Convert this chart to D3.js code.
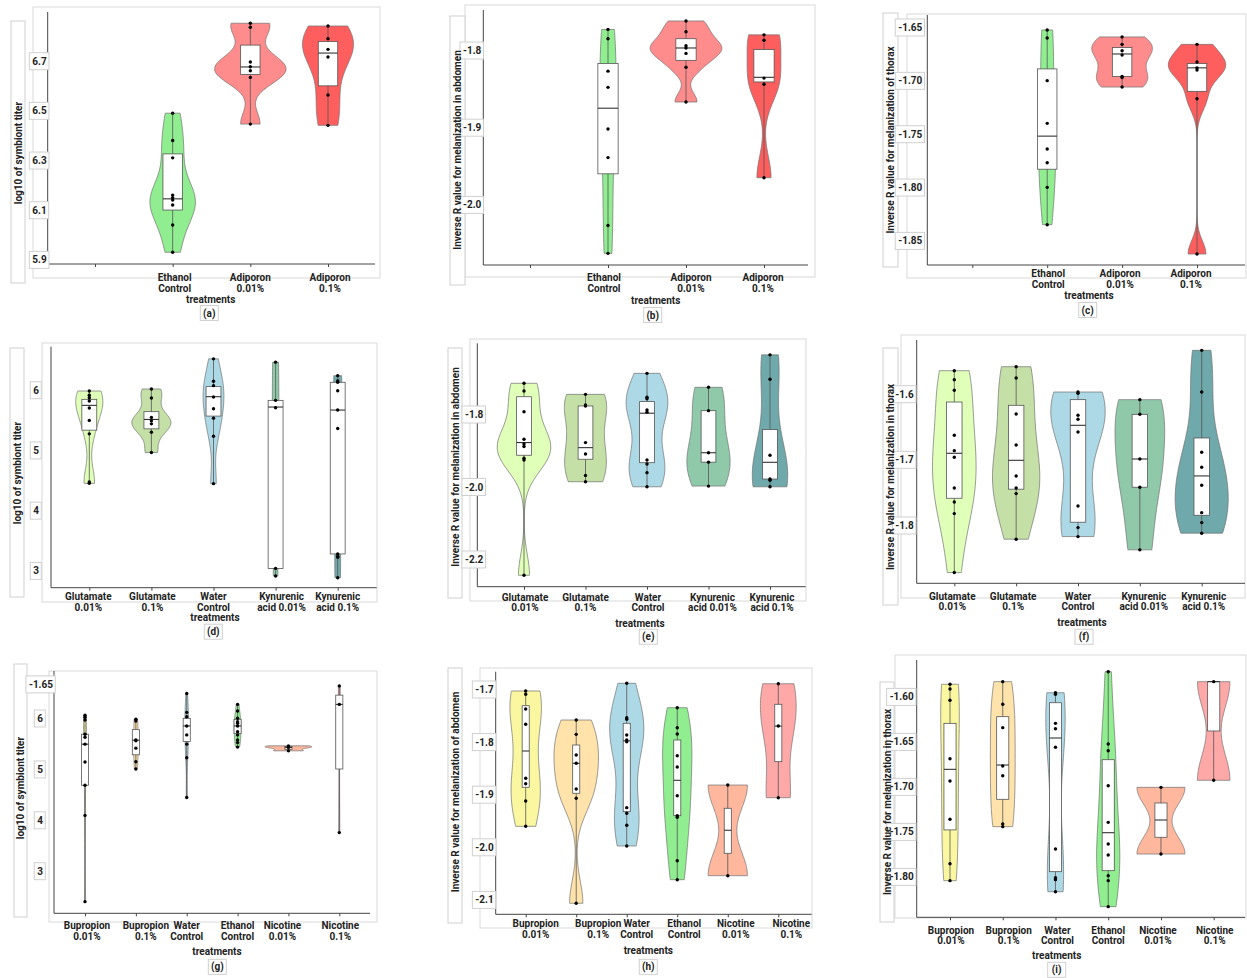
<!DOCTYPE html>
<head>
  <meta charset="utf-8">
  <script src="https://d3js.org/d3.v7.min.js"></script>
  <style>
body { margin: 0; background: #fff; }
/* all text in the figure is bold */
text { font-family: Roboto, "Liberation Sans", sans-serif; font-weight: bold; font-size: 10px; fill: #222; }
.frame { fill: none; stroke: #d9d9d9; }
.tbox { fill: #fff; stroke: #d0d0d0; }
  </style>
</head>
<body>
  <script>
    // ---- categories ----
    var catsA = ["", "Ethanol\nControl", "Adiporon\n0.01%", "Adiporon\n0.1%"];
    var catsD = ["Glutamate\n0.01%", "Glutamate\n0.1%", "Water\nControl", "Kynurenic\nacid 0.01%", "Kynurenic\nacid 0.1%"];
    var catsG = ["Bupropion\n0.01%", "Bupropion\n0.1%", "Water\nControl", "Ethanol\nControl", "Nicotine\n0.01%", "Nicotine\n0.1%"];

    var colA = [null, "#90EE90", "#FF8C8C", "#FF5E5E"];
    var colD = ["#E0FFB8", "#C4E0A6", "#ADD8E6", "#8FC9AA", "#6FA9AB"];
    var colG = ["#FAF7A0", "#FFE3AA", "#ADD8E6", "#90EE90", "#FFB89E", "#FFA8A8"];

    var titleSym = "log10 of symbiont titer";

    // ---- (a) symbiont titer, adiporon ----
    var ptsA = [[],
      [6.49, 6.38, 6.31, 6.16, 6.15, 6.14, 6.12, 6.04, 5.93],
      [6.852, 6.836, 6.696, 6.677, 6.661, 6.634, 6.446],
      [6.841, 6.790, 6.747, 6.716, 6.563, 6.441]];
    var boxA = [null, [6.10, 6.145, 6.326], [6.646, 6.676, 6.764], [6.60, 6.732, 6.778]];
    var ticksA = [6.7, 6.5, 6.3, 6.1, 5.9];
    var tickLabA = ["6.7", "6.5", "6.3", "6.1", "5.9"];

    // ---- (b) abdomen, adiporon ----
    var ptsB = [[],
      [-1.773, -1.785, -1.827, -1.848, -1.902, -1.939, -2.027, -2.063],
      [-1.762, -1.776, -1.794, -1.797, -1.804, -1.822, -1.867],
      [-1.780, -1.787, -1.836, -1.844, -1.965]];
    var boxB = [null, [-1.960, -1.875, -1.817], [-1.813, -1.797, -1.785], [-1.841, -1.835, -1.799]];
    var ticksB = [-1.8, -1.9, -2.0];
    var tickLabB = ["-1.8", "-1.9", "-2.0"];

    // ---- (c) thorax, adiporon ----
    var ptsC = [[],
      [-1.6525, -1.660, -1.700, -1.740, -1.764, -1.777, -1.800, -1.835],
      [-1.659, -1.666, -1.672, -1.676, -1.696, -1.697, -1.706],
      [-1.666, -1.6825, -1.688, -1.690, -1.717, -1.8625]];
    var boxC = [null, [-1.783, -1.752, -1.689], [-1.696, -1.675, -1.669], [-1.710, -1.688, -1.684]];
    var ticksC = [-1.65, -1.70, -1.75, -1.80, -1.85];
    var tickLabC = ["-1.65", "-1.70", "-1.75", "-1.80", "-1.85"];

    // ---- (d) symbiont titer, glutamate / kynurenic acid ----
    var ptsD = [
      [5.983, 5.912, 5.872, 5.817, 5.70, 5.495, 5.272, 4.472, 4.45],
      [6.017, 5.867, 5.545, 5.488, 5.438, 5.30, 4.962],
      [6.517, 6.145, 6.072, 5.883, 5.688, 5.533, 5.233, 4.445],
      [6.462, 5.828, 5.705, 3.038, 2.912],
      [6.238, 6.15, 6.128, 5.988, 5.667, 5.362, 3.278, 3.238, 3.222, 2.883]];
    var boxD = [[5.333, 5.745, 5.845], [5.355, 5.511, 5.64], [5.567, 5.889, 6.056], [3.038, 5.717, 5.828], [3.278, 5.667, 6.128]];
    var ticksD = [6, 5, 4, 3];
    var tickLabD = ["6", "5", "4", "3"];

    // ---- (e) abdomen, glutamate / kynurenic acid ----
    var ptsE = [
      [-1.7145, -1.7357, -1.7928, -1.869, -1.882, -1.889, -1.921, -1.926, -2.244],
      [-1.745, -1.774, -1.777, -1.878, -1.9095, -1.969, -1.986],
      [-1.687, -1.753, -1.757, -1.788, -1.794, -1.926, -1.937, -1.961, -2.0],
      [-1.7255, -1.790, -1.906, -1.932, -1.998],
      [-1.636, -1.7035, -1.913, -1.9785, -1.982, -2.0]];
    var boxE = [[-1.913, -1.878, -1.7515], [-1.924, -1.892, -1.777], [-1.9335, -1.797, -1.765], [-1.932, -1.906, -1.79], [-1.9785, -1.9324, -1.842]];
    var ticksE = [-1.8, -2.0, -2.2];
    var tickLabE = ["-1.8", "-2.0", "-2.2"];

    // ---- (f) thorax, glutamate / kynurenic acid ----
    var ptsF = [
      [-1.5645, -1.5782, -1.5944, -1.6629, -1.6863, -1.6963, -1.7431, -1.7644, -1.7822, -1.872],
      [-1.5584, -1.5756, -1.6304, -1.6776, -1.7248, -1.7431, -1.7517, -1.8212],
      [-1.597, -1.599, -1.6324, -1.6385, -1.6578, -1.7705, -1.8035, -1.8172],
      [-1.6086, -1.6309, -1.6989, -1.742, -1.8374],
      [-1.5335, -1.597, -1.6887, -1.7116, -1.739, -1.7807, -1.7959, -1.812]];
    var boxF = [[-1.7588, -1.6903, -1.6122], [-1.745, -1.701, -1.6172], [-1.7953, -1.6477, -1.6086], [-1.742, -1.699, -1.631], [-1.7847, -1.7248, -1.667]];
    var ticksF = [-1.6, -1.7, -1.8];
    var tickLabF = ["-1.6", "-1.7", "-1.8"];

    // ---- (g) symbiont titer, bupropion / nicotine ----
    var ptsG = [
      [6.059, 6.02, 5.967, 5.6875, 5.629, 5.492, 5.141, 4.684, 4.092, 2.398],
      [5.98, 5.947, 5.576, 5.557, 5.414, 5.146, 5.004],
      [6.488, 6.117, 6.031, 5.85, 5.674, 5.492, 5.225, 4.443],
      [6.273, 6.143, 6.0, 5.934, 5.902, 5.85, 5.738, 5.674, 5.576, 5.523, 5.434],
      [5.459, 5.426, 5.361],
      [6.637, 6.273, 3.754]];
    var boxG = [[4.684, 5.492, 5.6875], [5.283, 5.57, 5.777], [5.543, 5.85, 6.0], [5.7, 5.85, 5.98], [5.39, 5.426, 5.445], [5.004, 6.273, 6.455]];
    var ticksG = [6.67, 6, 5, 4, 3];
    var tickLabG = ["-1.65", "6", "5", "4", "3"];

    // ---- (h) abdomen, bupropion / nicotine ----
    var ptsH = [
      [-1.7032, -1.7095, -1.7375, -1.7665, -1.8692, -1.8795, -1.9124, -1.9605],
      [-1.7584, -1.7856, -1.8249, -1.8407, -1.8895, -1.9072, -2.1068],
      [-1.6886, -1.754, -1.757, -1.7869, -1.7964, -1.7996, -1.925, -1.9357, -1.9586, -1.9979],
      [-1.735, -1.773, -1.785, -1.8262, -1.8477, -1.9023, -1.9403, -1.9433, -2.0259, -2.062],
      [-1.882, -2.0544],
      [-1.6894, -1.7698, -1.9061]];
    var boxH = [[-1.8863, -1.8173, -1.7312], [-1.8977, -1.8407, -1.8059], [-1.9327, -1.798, -1.7646], [-1.9403, -1.873, -1.7964], [-2.0118, -1.968, -1.9262], [-1.8376, -1.77, -1.7285]];
    var ticksH = [-1.7, -1.8, -1.9, -2.0, -2.1];
    var tickLabH = ["-1.7", "-1.8", "-1.9", "-2.0", "-2.1"];

    // ---- (i) thorax, bupropion / nicotine ----
    var ptsI = [
      [-1.5862, -1.5914, -1.604, -1.6689, -1.6937, -1.7362, -1.7856, -1.8044],
      [-1.5833, -1.6084, -1.6344, -1.677, -1.6878, -1.7414, -1.7444],
      [-1.5956, -1.5974, -1.6296, -1.6356, -1.6562, -1.7692, -1.8011, -1.8033, -1.8167],
      [-1.5722, -1.6526, -1.66, -1.6989, -1.7396, -1.7637, -1.7759, -1.7989, -1.8044, -1.8333],
      [-1.7007, -1.7748],
      [-1.5833, -1.6929]];
    var boxI = [[-1.748, -1.6807, -1.6296], [-1.714, -1.6759, -1.6222], [-1.7944, -1.6459, -1.6067], [-1.7933, -1.7511, -1.67], [-1.7562, -1.737, -1.7181], [-1.6381, -1.5833, -1.5833]];
    var ticksI = [-1.60, -1.65, -1.70, -1.75, -1.80];
    var tickLabI = ["-1.60", "-1.65", "-1.70", "-1.75", "-1.80"];

    // layout of each panel (pixel positions only)
    var panels = [
      { cats: catsA, pts: ptsA, box: boxA, col: colA, ticks: ticksA, tl: tickLabA, title: titleSym, letter: "(a)",
        left: 47.7, right: 375, top: 12, bottom: 264, ycal: [[6.7, 61], [5.9, 259.7]], xr: [95, 328],
        tickOff: 1, vw: 0.92, bw: 0.25, labY: [281, 291.5, 302.5, 316.5], trX: 210.7, letX: 209.3, labDx: [0, 2, 0, 2],
        frame: [33, 7, 347, 271], tbox: [11, 21, 14, 262], titleX: 18, titleY: 153 },
      { cats: catsA, pts: ptsB, box: boxB, col: colA, ticks: ticksB, tl: tickLabB, title: "Inverse R value for melanization in abdomen", letter: "(b)",
        left: 483.3, right: 808, top: 10, bottom: 265, ycal: [[-1.8, 50.3], [-2.0, 204.7]], xr: [530, 764],
        tickOff: 2, vw: 0.92, bw: 0.26, labY: [281, 292, 303.5, 318.5], trX: 655.7, letX: 652.7, labDx: [0, -4, 5, -1],
        frame: [465, 5, 350, 272], tbox: [450, 16, 15, 269], titleX: 457.5, titleY: 150 },
      { cats: catsA, pts: ptsC, box: boxC, col: colA, ticks: ticksC, tl: tickLabC, title: "Inverse R value for melanization of thorax", letter: "(c)",
        left: 927.3, right: 1245, top: 15, bottom: 265, ycal: [[-1.65, 27.3], [-1.85, 240.7]], xr: [972.3, 1197],
        tickOff: 5, vw: 0.81, bw: 0.26, labY: [277, 288, 298.5, 313.5], trX: 1089, letX: 1087.7, labDx: [0, 1, -2, -6],
        frame: [907, 14, 339, 264], tbox: [883, 13, 15, 254], titleX: 890.5, titleY: 140 },
      { cats: catsD, pts: ptsD, box: boxD, col: colD, ticks: ticksD, tl: tickLabD, title: titleSym, letter: "(d)",
        left: 51, right: 376.7, top: 346.7, bottom: 587.7, ycal: [[6, 390], [3, 570.7]], xr: [89.3, 337.7],
        tickOff: 12, vw: 0.63, bw: 0.24, labY: [600.2, 610.7, 620.7, 635.2], trX: 215, letX: 213.3, labDx: [-1, 1, 0, 6, 0],
        frame: [42, 343, 335, 259], tbox: [10, 348, 14, 249], titleX: 17, titleY: 473 },
      { cats: catsD, pts: ptsE, box: boxE, col: colD, ticks: ticksE, tl: tickLabE, title: "Inverse R value for melanization in abdomen", letter: "(e)",
        left: 477.3, right: 805.7, top: 343.3, bottom: 586.7, ycal: [[-1.8, 414.3], [-2.2, 559.3]], xr: [524, 770],
        tickOff: -6, vw: 0.87, bw: 0.24, labY: [601.2, 611.2, 626.7, 640.2], trX: 640, letX: 648.3, labDx: [1, 0, 1, 4, 2],
        frame: [470, 339, 336, 262], tbox: [448, 348, 14, 250], titleX: 455, titleY: 467 },
      { cats: catsD, pts: ptsF, box: boxF, col: colD, ticks: ticksF, tl: tickLabF, title: "Inverse R value for melanization in thorax", letter: "(f)",
        left: 916.7, right: 1245, top: 340, bottom: 583.3, ycal: [[-1.6, 394], [-1.8, 525.3]], xr: [954.3, 1201.7],
        tickOff: 3, vw: 0.88, bw: 0.25, labY: [600.3, 610.3, 625.8, 640.3], trX: 1082, letX: 1084, labDx: [-2, -3, 0, 4, 2],
        frame: [901, 335, 344, 263], tbox: [883, 348, 15, 257], titleX: 890.5, titleY: 477 },
      { cats: catsG, pts: ptsG, box: boxG, col: colG, ticks: ticksG, tl: tickLabG, title: titleSym, letter: "(g)",
        left: 54, right: 370, top: 671, bottom: 913.3, ycal: [[6, 718.3], [3, 871]], xr: [85, 339.3],
        tickOff: 11, tickDx: [10, 0, 0, 0, 0], vw: 0.92, bw: 0.14, labY: [929.3, 940.3, 955.3, 970.3], trX: 217, letX: 217.3, labDx: [2, 10, 0, 0, -6, 1],
        frame: [49, 671, 328, 251], tbox: [14, 664, 13, 253], titleX: 20.5, titleY: 788 },
      { cats: catsG, pts: ptsH, box: boxH, col: colG, ticks: ticksH, tl: tickLabH, title: "Inverse R value for melanization of abdomen", letter: "(h)",
        left: 495.7, right: 811.7, top: 671.7, bottom: 914.3, ycal: [[-1.7, 689.3], [-2.1, 899.7]], xr: [525.7, 778.3],
        tickOff: 2, vw: 0.88, bw: 0.14, labY: [927.3, 938.3, 954.3, 970.3], trX: 648.3, letX: 648.3, labDx: [10, 22, 10, 7, 8, 13],
        frame: [480, 668, 332, 260], tbox: [448, 668, 14, 255], titleX: 455, titleY: 792 },
      { cats: catsG, pts: ptsI, box: boxI, col: colG, ticks: ticksI, tl: tickLabI, title: "Inverse R value for melanization in thorax", letter: "(i)",
        left: 916.7, right: 1245, top: 660, bottom: 917.3, ycal: [[-1.6, 696.7], [-1.8, 876.7]], xr: [950, 1213.7],
        tickOff: 3, vw: 0.91, bw: 0.23, labY: [934.3, 944.3, 959.3, 973.3], trX: 1056.7, letX: 1056.7, labDx: [1, 6, 2, 0, -3, 1],
        frame: [895, 655, 351, 263], tbox: [880, 682, 14, 240], titleX: 887, titleY: 802 }
    ];

    var svg = d3.select("body").append("svg")
      .attr("width", 1247)
      .attr("height", 978);

    panels.forEach(drawPanel);

    // gaussian kernel density, bandwidth like R's bw.nrd0, trimmed to the data range
    function kde(vals, n) {
      var s = vals.slice().sort(d3.ascending);
      var sd = d3.deviation(s);
      var iqr = d3.quantile(s, 0.75) - d3.quantile(s, 0.25);
      var lo = Math.min(sd, iqr / 1.34);
      if (!(lo > 0)) lo = sd || 1;
      var bw = 0.9 * lo * Math.pow(s.length, -0.2);
      var a = s[0], b = s[s.length - 1];
      return d3.range(n + 1).map(function(i) {
        var v = a + (b - a) * i / n;
        var dens = d3.mean(s, function(x) { var u = (v - x) / bw; return Math.exp(-0.5 * u * u); }) / (bw * Math.sqrt(2 * Math.PI));
        return [v, dens];
      });
    }

    function drawPanel(p) {
      var g = svg.append("g");

      g.append("rect").attr("class", "frame")
        .attr("x", p.frame[0]).attr("y", p.frame[1]).attr("width", p.frame[2]).attr("height", p.frame[3]);
      g.append("rect").attr("class", "tbox")
        .attr("x", p.tbox[0]).attr("y", p.tbox[1]).attr("width", p.tbox[2]).attr("height", p.tbox[3]);

      var y = d3.scaleLinear()
        .domain([p.ycal[0][0], p.ycal[1][0]])
        .range([p.ycal[0][1], p.ycal[1][1]]);
      var x = d3.scalePoint()
        .domain(d3.range(p.cats.length))
        .range(p.xr);
      var step = x.step();

      // violins scaled by "area": one common density scale per panel
      var dens = p.pts.map(function(v) { return v.length > 1 ? kde(v, 80) : null; });
      var maxD = d3.max(dens, function(d) { return d ? d3.max(d, function(e) { return e[1]; }) : 0; });
      var hw = p.vw * step / 2;

      p.cats.forEach(function(c, i) {
        if (!dens[i]) return;
        var cx = x(i);
        var area = d3.area()
          .y(function(d) { return y(d[0]); })
          .x0(function(d) { return cx - d[1] / maxD * hw; })
          .x1(function(d) { return cx + d[1] / maxD * hw; })
          .curve(d3.curveCatmullRom);
        g.append("path")
          .attr("d", area(dens[i]))
          .style("fill", p.col[i])
          .style("stroke", "#707070")
          .style("stroke-width", 0.7);

        var ext = d3.extent(p.pts[i]);
        g.append("line")
          .attr("x1", cx).attr("x2", cx)
          .attr("y1", y(ext[0])).attr("y2", y(ext[1]))
          .style("stroke", "#555").style("stroke-width", 0.8);

        var b = p.box[i], bwid = p.bw * step;
        g.append("rect")
          .attr("x", cx - bwid / 2).attr("width", bwid)
          .attr("y", y(b[2])).attr("height", y(b[0]) - y(b[2]))
          .style("fill", "#fff").style("stroke", "#555").style("stroke-width", 0.8);
        g.append("line")
          .attr("x1", cx - bwid / 2).attr("x2", cx + bwid / 2)
          .attr("y1", y(b[1])).attr("y2", y(b[1]))
          .style("stroke", "#333").style("stroke-width", 1.1);

        g.selectAll(null)
          .data(p.pts[i])
          .enter().append("circle")
          .attr("cx", cx)
          .attr("cy", function(d) { return y(d); })
          .attr("r", 1.7)
          .style("fill", "#000");
      });

      // axis lines
      g.append("line").attr("x1", p.left).attr("x2", p.left).attr("y1", p.top).attr("y2", p.bottom)
        .style("stroke", "#444");
      g.append("line").attr("x1", p.left).attr("x2", p.right).attr("y1", p.bottom).attr("y2", p.bottom)
        .style("stroke", "#444");

      var xa = g.append("g")
        .attr("transform", "translate(0," + p.bottom + ")")
        .call(d3.axisBottom(x).tickSize(3).tickFormat(""));
      xa.select(".domain").remove();
      xa.selectAll("line").style("stroke", "#444");

      var ya = g.append("g")
        .attr("transform", "translate(" + p.left + ",0)")
        .call(d3.axisLeft(y).tickValues(p.ticks).tickSize(0).tickPadding(p.tickOff)
          .tickFormat(function(d, i) { return p.tl[i]; }));
      ya.select(".domain").remove();
      ya.selectAll(".tick").each(function(d, i) {
        var t = d3.select(this).select("text");
        if (p.tickDx) t.attr("x", +t.attr("x") + p.tickDx[i]);
        var bb = t.node().getBBox();
        d3.select(this).insert("rect", "text")
          .attr("class", "tbox")
          .attr("x", bb.x - 3).attr("y", bb.y - 3)
          .attr("width", bb.width + 5).attr("height", bb.height + 6);
      });

      // y title drawn last so it stays readable
      g.append("text")
        .attr("transform", "translate(" + p.titleX + "," + p.titleY + ") rotate(-90)")
        .attr("text-anchor", "middle").attr("dy", "0.35em")
        .text(p.title);

      // category labels
      p.cats.forEach(function(c, i) {
        if (!c) return;
        var t = g.append("text").attr("text-anchor", "middle");
        c.split("\n").forEach(function(line, k) {
          t.append("tspan")
            .attr("x", x(i) + p.labDx[i])
            .attr("y", p.labY[k])
            .text(line);
        });
      });

      g.append("text").attr("x", p.trX).attr("y", p.labY[2])
        .attr("text-anchor", "middle").text("treatments");
      g.append("rect").attr("class", "tbox")
        .attr("x", p.letX - 9).attr("y", p.labY[3] - 11).attr("width", 18).attr("height", 15);
      g.append("text").attr("x", p.letX).attr("y", p.labY[3])
        .attr("text-anchor", "middle").text(p.letter);
    }
  </script>
</body>
